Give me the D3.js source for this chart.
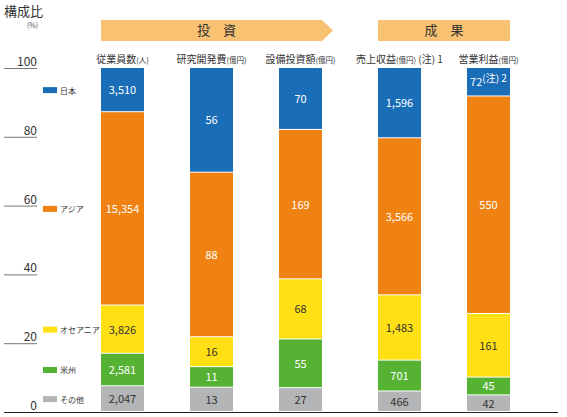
<!DOCTYPE html>
<html>
<head>
<meta charset="utf-8">
<script src="https://cdn.jsdelivr.net/npm/d3@7"></script>
<style>
  body { margin: 0; background: #fff; }
  svg { font-family: "Noto Sans CJK JP", "Noto Sans", sans-serif; }
</style>
</head>
<body>
<svg id="chart" width="567" height="417"></svg>
<script>
// data
var categories = ["従業員数", "研究開発費", "設備投資額", "売上収益", "営業利益"];
var units      = ["(人)", "(億円)", "(億円)", "(億円)", "(億円)"];
var notes      = ["", "", "", " (注) 1", ""];
var groups     = ["投　資", "成　果"];
var groupOf    = [0, 0, 0, 1, 1];

var regions  = ["その他", "米州", "オセアニア", "アジア", "日本"];   // bottom -> top
var others   = [2047, 13, 27, 466, 42];
var americas = [2581, 11, 55, 701, 45];
var oceania  = [3826, 16, 68, 1483, 161];
var asia     = [15354, 88, 169, 3566, 550];
var japan    = [3510, 56, 70, 1596, 72];

var yTicks = [0, 20, 40, 60, 80, 100];

var colors    = {"日本": "#1a6db7", "アジア": "#f08213", "オセアニア": "#ffe014", "米州": "#55b233", "その他": "#b3b5b6"};
var textColor = {"日本": "#fff", "アジア": "#fff", "オセアニア": "#333", "米州": "#fff", "その他": "#333"};

var svg = d3.select("#chart");

// build rows for the stack
var series = {"その他": others, "米州": americas, "オセアニア": oceania, "アジア": asia, "日本": japan};
var rows = categories.map(function(c, i) {
    var r = {cat: c, i: i};
    regions.forEach(function(k) { r[k] = series[k][i]; });
    return r;
});
var stacked = d3.stack().keys(regions).offset(d3.stackOffsetExpand)(rows);

// y scale in percent
var y = d3.scaleLinear().domain([0, 100]).range([412, 68]);

// two groups of bars, each with its own band scale
var groupRange = [[101, 322], [378, 510]];
var inner = groupRange.map(function(r, g) {
    var cats = categories.filter(function(c, i) { return groupOf[i] === g; });
    return d3.scaleBand().domain(cats).range(r).paddingInner(0.517).paddingOuter(0);
});
function xOf(i) { return inner[groupOf[i]](categories[i]); }
var bw = inner[0].bandwidth();

// title
svg.append("text").attr("x", 4).attr("y", 16)
    .style("font-size", "13px").attr("fill", "#333").text("構成比");
svg.append("text").attr("x", 27).attr("y", 28)
    .style("font-size", "7px").attr("fill", "#555").text("(%)");

// y ticks: short rule under each label
var tick = svg.append("g").selectAll("g").data(yTicks).enter().append("g");
tick.append("line")
    .attr("x1", 4).attr("x2", 37)
    .attr("y1", function(d) { return y(d) + 0.5; })
    .attr("y2", function(d) { return y(d) + 0.5; })
    .attr("stroke", function(d) { return d === 0 ? "none" : "#777"; })
    .attr("stroke-width", 1);
tick.append("text")
    .attr("x", 37).attr("y", function(d) { return y(d) - 2; })
    .attr("text-anchor", "end")
    .style("font-size", "12px").attr("fill", "#333")
    .text(function(d) { return d; });

// group banners
var banner = svg.append("g");
banner.append("path")
    .attr("d", "M" + groupRange[0][0] + ",20 H" + groupRange[0][1] + " L" + (groupRange[0][1] + 11) + ",30.5 L" + groupRange[0][1] + ",41 H" + groupRange[0][0] + " Z")
    .attr("fill", "#f9c272");
banner.append("rect")
    .attr("x", groupRange[1][0]).attr("y", 20)
    .attr("width", groupRange[1][1] - groupRange[1][0]).attr("height", 21)
    .attr("fill", "#f9c272");
banner.selectAll("text").data(groups).enter().append("text")
    .attr("x", function(d, g) { return (groupRange[g][0] + groupRange[g][1]) / 2 + (g === 0 ? 5 : 0); })
    .attr("y", 35)
    .attr("text-anchor", "middle")
    .style("font-size", "13px").attr("fill", "#333")
    .text(function(d) { return d; });

// category labels
var catLab = svg.append("g").selectAll("text").data(categories).enter().append("text")
    .attr("x", function(d, i) { return xOf(i) + bw / 2; })
    .attr("y", 63)
    .attr("text-anchor", "middle")
    .style("font-size", "10px").attr("fill", "#333");
catLab.append("tspan").text(function(d) { return d; });
catLab.append("tspan").style("font-size", "7.5px").text(function(d, i) { return units[i]; });
catLab.append("tspan").text(function(d, i) { return notes[i]; });

// stacked bars
var layer = svg.append("g").selectAll("g").data(stacked).enter().append("g")
    .attr("fill", function(d) { return colors[d.key]; });
layer.selectAll("rect").data(function(d) { return d; }).enter().append("rect")
    .attr("x", function(d) { return xOf(d.data.i); })
    .attr("width", bw)
    .attr("y", function(d) { return y(d[1] * 100); })
    .attr("height", function(d) { return Math.max(0, y(d[0] * 100) - y(d[1] * 100) - 1); });

// value labels
var fmt = d3.format(",");
stacked.forEach(function(s) {
    s.forEach(function(d) {
        var cx = xOf(d.data.i) + bw / 2;
        var cy = (y(d[0] * 100) + y(d[1] * 100)) / 2;
        var t = svg.append("text")
            .attr("x", cx).attr("y", cy + 4)
            .attr("text-anchor", "middle")
            .style("font-size", "11px")
            .attr("fill", textColor[s.key]);
        t.append("tspan").text(fmt(d.data[s.key]));
        if (s.key === "日本" && d.data.cat === "営業利益") {
            t.append("tspan").attr("dy", -4).style("font-size", "10px").text("(注) 2");
        }
    });
});

// legend, aligned with the first bar's segments
var leg = svg.append("g").selectAll("g").data(stacked).enter().append("g")
    .attr("transform", function(s) {
        var d = s[0];
        return "translate(43," + ((y(d[0] * 100) + y(d[1] * 100)) / 2) + ")";
    });
leg.append("rect").attr("x", 0).attr("y", -3).attr("width", 14).attr("height", 6)
    .attr("fill", function(s) { return colors[s.key]; });
leg.append("text").attr("x", 17).attr("y", 3.5)
    .style("font-size", "8px").attr("fill", "#333")
    .text(function(s) { return s.key; });

// baseline
svg.append("line")
    .attr("x1", 4).attr("x2", 558)
    .attr("y1", y(0) + 0.5).attr("y2", y(0) + 0.5)
    .attr("stroke", "#222").attr("stroke-width", 1.2);
</script>
</body>
</html>
